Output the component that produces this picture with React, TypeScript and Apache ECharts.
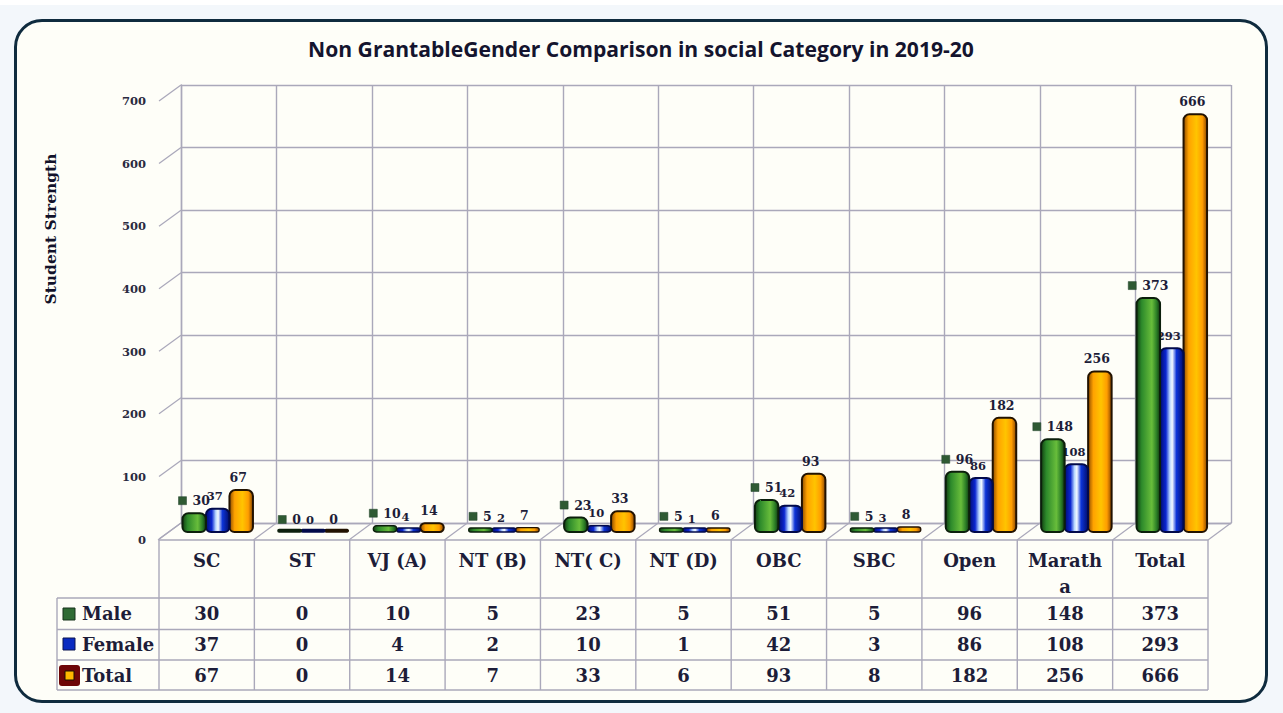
import React, { useEffect, useRef } from "react";
import * as echarts from "echarts";

const titleText = "Non GrantableGender Comparison in social Category in 2019-20";
const yAxisTitle = "Student Strength";
const categories = ["SC", "ST", "VJ (A)", "NT (B)", "NT( C)", "NT (D)", "OBC", "SBC", "Open", "Marath\na", "Total"];
const male = [30, 0, 10, 5, 23, 5, 51, 5, 96, 148, 373];
const female = [37, 0, 4, 2, 10, 1, 42, 3, 86, 108, 293];
const total = [67, 0, 14, 7, 33, 6, 93, 8, 182, 256, 666];
const yTicks = [0, 100, 200, 300, 400, 500, 600, 700];

const SERIF = "'DejaVu Serif', serif";
const GRID_COLOR = "#aaa8ba";
const INK = "#1d1d38";

const tableLeft = 57;
const tableFront = 159;
const tableRight = 1208;
const colW = (tableRight - tableFront) / categories.length;
const floorY = 540;
const rowY = [598, 629.5, 660, 690];

function bar(stops: [number, string][]) {
  return {
    type: "linear", x: 0, y: 0, x2: 1, y2: 0,
    colorStops: stops.map(([offset, color]) => ({ offset, color })),
  };
}
const greenFill = bar([[0, "#123f12"], [0.22, "#2d8a2b"], [0.65, "#68bd3b"], [0.85, "#2c7f26"], [1, "#103610"]]);
const blueFill = bar([[0, "#010c70"], [0.25, "#0a26d2"], [0.42, "#b9d8ff"], [0.52, "#f2f9ff"], [0.7, "#0c34d8"], [1, "#010c6a"]]);
const orangeFill = bar([[0, "#8f4c00"], [0.22, "#ffa200"], [0.55, "#ffc400"], [0.8, "#ff9d00"], [1, "#8a4600"]]);

function barSeries(
  name: string,
  values: number[],
  slot: number,
  fill: any,
  stroke: string,
  labelDx: number,
  labelSize: number,
  withKey: boolean,
) {
  return {
    name,
    type: "custom",
    xAxisIndex: 2,
    yAxisIndex: 2,
    z: 5,
    clip: false,
    silent: true,
    data: values.map((v, i) => [i, v]),
    renderItem: (_p: any, api: any) => {
      const value = api.value(1);
      const base = api.coord([api.value(0), 0]);
      const top = api.coord([api.value(0), value]);
      const w = 23.5;
      const cx = base[0] + slot * w;
      const realH = base[1] - top[1];
      const h = Math.max(realH, value === 0 ? 2.5 : 4);
      const y = base[1] - h;
      const text = String(value);
      const r = Math.min(6, h / 2);
      const children: any[] = [
        {
          type: "rect",
          shape: { x: cx - w / 2, y, width: w, height: h, r: [r, r, Math.min(5, h / 2), Math.min(5, h / 2)] },
          style: { fill: value === 0 ? stroke : fill, stroke, lineWidth: h < 8 ? 1.3 : 2 },
        },
      ];
      const labelY = base[1] - realH - 12.5;
      if (withKey) {
        const tw = text.length * 8.7;
        const left = cx - (14 + tw) / 2;
        children.push({
          type: "rect",
          shape: { x: left, y: labelY - 4, width: 8, height: 8 },
          style: { fill: "#2f5a33", stroke: "#20402a", lineWidth: 0.5 },
        });
        children.push({
          type: "text",
          x: left + 14,
          y: labelY,
          style: { text, fill: INK, font: `bold ${labelSize}px ${SERIF}`, align: "left", verticalAlign: "middle" },
        });
      } else {
        children.push({
          type: "text",
          x: cx + labelDx,
          y: labelY,
          style: { text, fill: INK, font: `bold ${labelSize}px ${SERIF}`, align: "center", verticalAlign: "middle" },
        });
      }
      return { type: "group", children };
    },
  };
}

function tableGraphics() {
  const els: any[] = [];
  const line = (x1: number, y1: number, x2: number, y2: number) =>
    els.push({ type: "line", shape: { x1, y1, x2, y2 }, style: { stroke: GRID_COLOR, lineWidth: 1.4 }, silent: true });
  line(tableFront, floorY, tableRight, floorY);
  rowY.forEach((y) => line(tableLeft, y, tableRight, y));
  line(tableLeft, rowY[0], tableLeft, rowY[3]);
  categories.forEach((_, i) => line(tableFront + i * colW, floorY, tableFront + i * colW, rowY[3]));
  line(tableRight, floorY, tableRight, rowY[3]);

  const text = (s: string, x: number, y: number, align: string, vAlign = "middle") =>
    els.push({
      type: "text", x, y, silent: true,
      style: { text: s, fill: INK, font: `bold 18px ${SERIF}`, align, verticalAlign: vAlign, lineHeight: 26 },
    });

  categories.forEach((c, i) => text(c, tableFront + (i + 0.5) * colW, 547, "center", "top"));
  const rows: [string, number[]][] = [["Male", male], ["Female", female], ["Total", total]];
  rows.forEach(([name, vals], r) => {
    const cy = (rowY[r] + rowY[r + 1]) / 2;
    text(name, 82, cy, "left");
    vals.forEach((v, i) => text(String(v), tableFront + (i + 0.5) * colW, cy, "center"));
  });

  els.push({ type: "rect", shape: { x: 63, y: 608, width: 12, height: 12 }, style: { fill: "#2f6b34", stroke: "#16331a", lineWidth: 1 } });
  els.push({ type: "rect", shape: { x: 63, y: 638, width: 12, height: 12 }, style: { fill: "#0a2bc0", stroke: "#0a1450", lineWidth: 1 } });
  els.push({ type: "rect", shape: { x: 59, y: 665, width: 21, height: 21, r: 3 }, style: { fill: "#6e0606" } });
  els.push({ type: "rect", shape: { x: 65, y: 671, width: 9, height: 9 }, style: { fill: "#ffb800", stroke: "#1a1000", lineWidth: 1 } });

  els.push({
    type: "text", x: 50, y: 229, rotation: Math.PI / 2, silent: true,
    style: { text: yAxisTitle, fill: "#12122a", font: `bold 15.5px ${SERIF}`, align: "center", verticalAlign: "middle" },
  });
  return els;
}

export default function App() {
  const ref = useRef<HTMLDivElement>(null);
  useEffect(() => {
    document.body.style.margin = "0";
    const chart = echarts.init(ref.current!, undefined, { renderer: "svg" });
    const hiddenX = (gridIndex: number) => ({ type: "category", gridIndex, data: categories, show: false });
    chart.setOption({
      animation: false,
      backgroundColor: "transparent",
      title: {
        text: titleText,
        left: 636,
        top: 33,
        textAlign: "center",
        textStyle: { color: "#14142e", fontFamily: "'Open Sans', sans-serif", fontWeight: 700, fontSize: 21.1 },
      },
      grid: [
        { left: 181, top: 85, width: 1050, height: 438, show: false },
        { left: 159, top: 101, width: 1049, height: 438.5, show: false },
        { left: 170, top: 93, width: 1049.5, height: 439, show: false },
      ],
      xAxis: [
        {
          type: "category", gridIndex: 0, data: categories,
          axisLabel: { show: false }, axisTick: { show: false },
          axisLine: { show: true, lineStyle: { color: GRID_COLOR, width: 1.4 } },
          splitLine: { show: true, lineStyle: { color: GRID_COLOR, width: 1.4 } },
        },
        hiddenX(1),
        hiddenX(2),
      ],
      yAxis: [
        {
          type: "value", gridIndex: 0, min: 0, max: 700, interval: 100,
          axisLabel: { show: false }, axisTick: { show: false },
          axisLine: { show: true, lineStyle: { color: GRID_COLOR, width: 1.4 } },
          splitLine: { show: true, lineStyle: { color: GRID_COLOR, width: 1.4 } },
        },
        {
          type: "value", gridIndex: 1, min: 0, max: 700, interval: 100,
          axisLine: { show: false }, axisTick: { show: false }, splitLine: { show: false },
          axisLabel: { margin: 13, color: "#2a2a40", fontFamily: SERIF, fontWeight: "bold", fontSize: 11.5, formatter: (v: number) => (yTicks.includes(v) ? String(v) : "") },
        },
        { type: "value", gridIndex: 2, min: 0, max: 700, interval: 100, show: false },
      ],
      series: [
        {
          type: "custom", name: "wall ticks", xAxisIndex: 0, yAxisIndex: 0, silent: true, clip: false, z: 1,
          data: yTicks.map((v) => [0, v]),
          renderItem: (p: any, api: any) => {
            const y = api.coord([0, api.value(1)])[1];
            const x = p.coordSys.x;
            return { type: "line", shape: { x1: x, y1: y, x2: x - 22, y2: y + 16 }, style: { stroke: GRID_COLOR, lineWidth: 1.2 } };
          },
        },
        {
          type: "custom", name: "floor", xAxisIndex: 0, yAxisIndex: 0, silent: true, clip: false, z: 1,
          data: [...categories.map((_, i) => [i, 0]), [categories.length, 0]],
          renderItem: (p: any, api: any) => {
            const band = p.coordSys.width / categories.length;
            const x = p.coordSys.x + api.value(0) * band;
            const y = p.coordSys.y + p.coordSys.height;
            return { type: "line", shape: { x1: x, y1: y, x2: x - 23, y2: y + 17 }, style: { stroke: GRID_COLOR, lineWidth: 1.2 } };
          },
        },
        barSeries("Total", total, 1, orangeFill, "#221200", -3, 12.5, false),
        barSeries("Female", female, 0, blueFill, "#020a4a", -3, 11.5, false),
        barSeries("Male", male, -1, greenFill, "#0c1f0c", 0, 12.5, true),
      ],
      graphic: tableGraphics(),
    });
    return () => chart.dispose();
  }, []);

  return (
    <div style={{ position: "absolute", left: 0, top: 0, width: 1283, height: 713, overflow: "hidden", background: "#f3f7fb" }}>
      <div style={{ position: "absolute", left: 0, top: 0, width: 1283, height: 5, background: "#ffffff" }} />
      <div
        style={{
          position: "absolute", left: 13.5, top: 18.5, width: 1248, height: 678.5,
          border: "3px solid #0f2b3e", borderRadius: 28, background: "#fefef8",
        }}
      />
      <div ref={ref} style={{ position: "absolute", left: 0, top: 0, width: 1283, height: 713 }} />
    </div>
  );
}
